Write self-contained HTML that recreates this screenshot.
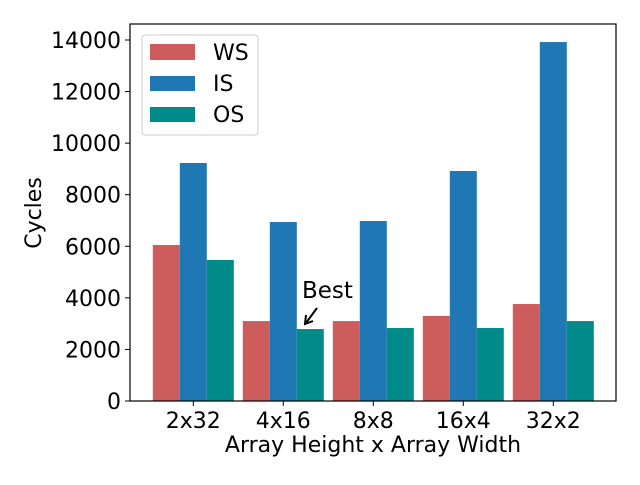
<!DOCTYPE html>
<html><head><meta charset="utf-8"><style>
body{margin:0;background:#fff}
svg text{font-family:"DejaVu Sans","Liberation Sans",sans-serif;fill:#000}
</style></head><body>
<svg id="chart" width="640" height="480">
<rect width="640" height="480" fill="#fff"/>
<g id="bars"></g>
<g id="axes"></g>
<g>
<rect x="142" y="35" width="116" height="100" rx="3" fill="#fff" fill-opacity="0.8" stroke="#ccc"/>
<rect x="150" y="44" width="45" height="16" fill="#cd5c5c"/>
<text x="213" y="60" font-size="22">WS</text>
<rect x="150" y="76" width="45" height="15" fill="#1f77b4"/>
<text x="213" y="91" font-size="22">IS</text>
<rect x="150" y="107" width="45" height="15" fill="#008b8b"/>
<text x="213" y="122" font-size="22">OS</text>
</g>
<g>
<text x="302" y="298" font-size="23">Best</text>
<line x1="317" y1="308" x2="306" y2="323" stroke="#000" stroke-width="2"/>
<polyline points="306,315 305,324 313,321" fill="none" stroke="#000" stroke-width="2"/>
</g>
</svg>
<script>
const categories=["2x32","4x16","8x8","16x4","32x2"];
const wsValues=[6050,3100,3100,3300,3760];
const isValues=[9230,6940,6980,8920,13920];
const osValues=[5470,2790,2830,2830,3100];
const yTicks=[0,2000,4000,6000,8000,10000,12000,14000];
const NS="http://www.w3.org/2000/svg";
const L=130,R=616,T=24,B=401;
const y=v=>B-v*(361/14000);
const x=i=>193.3+90*i;
const bw=27;
const bars=document.getElementById('bars');
const axes=document.getElementById('axes');
function mk(tag,attrs,parent){const e=document.createElementNS(NS,tag);for(const k in attrs)e.setAttribute(k,attrs[k]);parent.appendChild(e);return e;}
const series=[["ws",wsValues,"#cd5c5c",-1],["is",isValues,"#1f77b4",0],["os",osValues,"#008b8b",1]];
series.forEach(([n,vals,c,off])=>{
 vals.forEach((v,i)=>{
  const r=mk('rect',{x:x(i)+off*bw-bw/2,y:y(v),width:bw,height:B-y(v),fill:c},bars);
  
  
 });
});
const frame=mk('rect',{x:L,y:T,width:R-L,height:B-T,fill:"none",stroke:"#000","stroke-width":1.2},axes);


yTicks.forEach(v=>{
 mk('line',{x1:L-5,x2:L,y1:y(v),y2:y(v),stroke:"#000"},axes);
 const t=mk('text',{x:L-9,y:y(v)+8,"font-size":22,"text-anchor":"end"},axes);
 t.textContent=v;
 
 
});
categories.forEach((c,i)=>{
 mk('line',{x1:x(i),x2:x(i),y1:B,y2:B+5,stroke:"#000"},axes);
 const t=mk('text',{x:x(i),y:B+27,"font-size":22,"text-anchor":"middle"},axes);
 t.textContent=c;
 
 
});
const xt=mk('text',{x:(L+R)/2,y:452,"font-size":22,"text-anchor":"middle"},axes);
xt.textContent="Array Height x Array Width";


const yt=mk('text',{x:41,y:213,"font-size":22,"text-anchor":"middle",transform:"rotate(-90 41 213)"},axes);
yt.textContent="Cycles";


</script>
</body></html>
